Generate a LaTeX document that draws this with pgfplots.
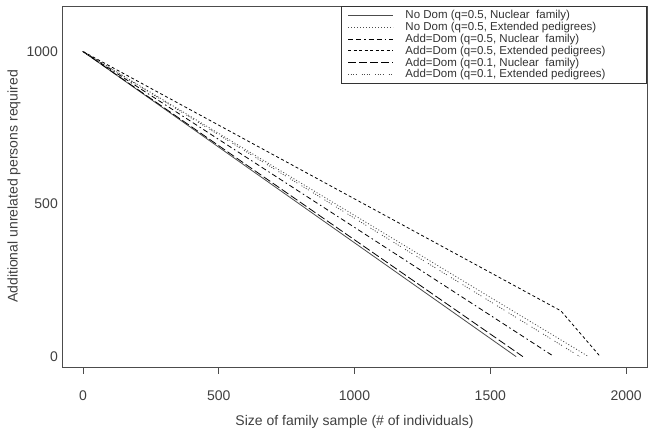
\documentclass[border=0pt]{standalone}
\usepackage{fontspec}
\setmainfont{Liberation Sans}
\usepackage{pgfplots}
\pgfplotsset{compat=1.18}

\begin{document}
\begin{tikzpicture}
\begin{axis}[scale only axis, width=585pt, height=361pt,
  xmin=-77, xmax=2077, ymin=-34, ymax=1149,
  axis line style={black!70, line width=0.8pt},
  xtick={0,500,1000,1500,2000}, ytick={0,500,1000},
  xtick pos=bottom, ytick pos=left,
  tick align=outside,
  x tick style={black!70, line width=0.8pt}, major tick length=7pt,
  y tick style={draw=none},
  /pgf/number format/assume math mode=true,
  /pgf/number format/set thousands separator={},
  tick label style={font=\fontsize{14}{16}\selectfont, text=black!75},
  xticklabel style={anchor=north, yshift=-13pt},
  yticklabel style={anchor=east, inner sep=1pt, xshift=4pt},
  xlabel={Size of family sample (\# of individuals)},
  ylabel={Additional unrelated persons required},
  every axis x label/.style={at={(axis description cs:0.5,-0.152)}, anchor=center,
    font=\fontsize{14}{16}\selectfont, text=black!75},
  every axis y label/.style={at={(axis description cs:-0.082,0.5)}, rotate=90, anchor=center,
    font=\fontsize{14}{16}\selectfont, text=black!75},
  legend image code/.code={\draw[#1] (0pt,0pt) -- (45pt,0pt); \path (56pt,0pt);},
  legend style={at={(rel axis cs:1,1)}, anchor=north east,
    draw=black!80, line width=0.8pt, inner xsep=6pt, inner ysep=3pt,
    font=\fontsize{11.5}{12}\selectfont, text=black!80,
    row sep=0pt, legend cell align=left,
    nodes={inner sep=1pt}},
  every axis plot/.append style={line width=0.8pt}]
\addplot[black!70] coordinates {(0,1000) (1595,0)};
\addlegendentry{No Dom (q=0.5, Nuclear\ \ family)}
\addplot[black!70, dash pattern=on 1pt off 2pt] coordinates {(0,1000) (1862,0)};
\addlegendentry{No Dom (q=0.5, Extended pedigrees)}
\addplot[black, dash pattern=on 5pt off 3pt on 5pt off 3pt on 1.5pt off 3pt] coordinates {(0,1000) (1735,0)};
\addlegendentry{Add=Dom (q=0.5, Nuclear\ \ family)}
\addplot[black, dash pattern=on 3pt off 2.5pt] coordinates {(0,1000) (1760,150) (1905,0)};
\addlegendentry{Add=Dom (q=0.5, Extended pedigrees)\hspace*{34pt}}
\addplot[black, dash pattern=on 8pt off 3pt] coordinates {(0,1000) (1620,0)};
\addlegendentry{Add=Dom (q=0.1, Nuclear\ \ family)}
\addplot[black!70, dash pattern=on 1pt off 1.5pt on 1pt off 1.5pt on 1pt off 1.5pt on 1pt off 5pt] coordinates {(0,1000) (1830,0)};
\addlegendentry{Add=Dom (q=0.1, Extended pedigrees)}
\end{axis}
\path[use as bounding box] (-62pt,-69pt) rectangle (592pt,367pt);
\end{tikzpicture}
\end{document}
